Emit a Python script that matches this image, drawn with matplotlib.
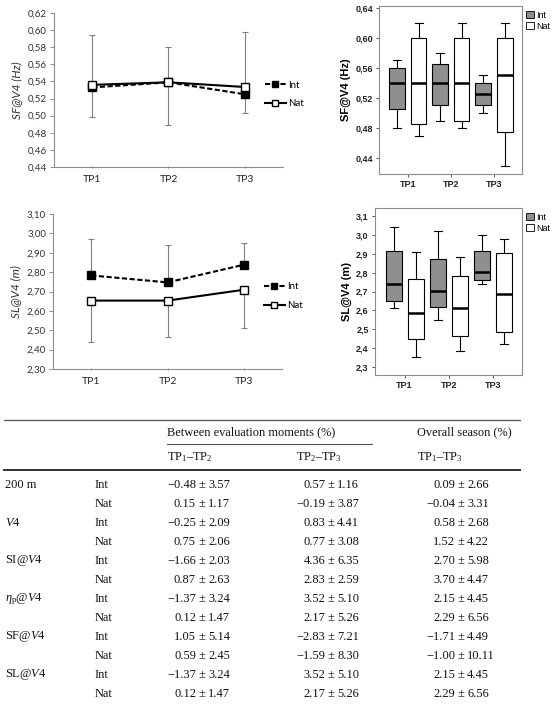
import matplotlib
matplotlib.use("Agg")
import matplotlib.pyplot as plt
from matplotlib.patches import Patch
from matplotlib.ticker import FuncFormatter

plt.rcParams['mathtext.fontset'] = 'custom'
plt.rcParams['mathtext.rm'] = 'Liberation Serif'
plt.rcParams['mathtext.it'] = 'Liberation Serif:italic'

# ---- chart data ----
timepoints = ["TP1", "TP2", "TP3"]
groups = ["Int", "Nat"]

# mean +/- sd line charts
sf_int = [0.533, 0.539, 0.525]
sf_nat = [0.536, 0.539, 0.5335]
sf_int_sd = [0.061, 0.041, 0.073]
sf_nat_sd = [0.038, 0.050, 0.030]

sl_int = [2.783, 2.747, 2.838]
sl_nat = [2.653, 2.653, 2.709]
sl_int_sd = [0.188, 0.194, 0.112]
sl_nat_sd = [0.212, 0.187, 0.197]

# boxplots: whisker low, q1, median, q3, whisker high
sf_box_int = [[0.480, 0.505, 0.540, 0.560, 0.570],
              [0.490, 0.510, 0.540, 0.565, 0.580],
              [0.500, 0.510, 0.525, 0.540, 0.550]]
sf_box_nat = [[0.470, 0.485, 0.540, 0.600, 0.620],
              [0.480, 0.490, 0.540, 0.600, 0.620],
              [0.430, 0.475, 0.550, 0.600, 0.620]]
sl_box_int = [[2.610, 2.650, 2.739, 2.914, 3.042],
              [2.551, 2.615, 2.704, 2.873, 3.020],
              [2.739, 2.760, 2.806, 2.914, 2.999]]
sl_box_nat = [[2.350, 2.450, 2.585, 2.767, 2.909],
              [2.381, 2.461, 2.612, 2.781, 2.882],
              [2.420, 2.486, 2.689, 2.905, 2.980]]

# table
params = ["200 m", "$\\mathit{V}$4", "SI@$\\mathit{V}$4", "$\\eta_\\mathrm{p}$@$\\mathit{V}$4",
          "SF@$\\mathit{V}$4", "SL@$\\mathit{V}$4"]
tp12_mean = [-0.48, 0.15, -0.25, 0.75, -1.66, 0.87, -1.37, 0.12, 1.05, 0.59, -1.37, 0.12]
tp12_sd = [3.57, 1.17, 2.09, 2.06, 2.03, 2.63, 3.24, 1.47, 5.14, 2.45, 3.24, 1.47]
tp23_mean = [0.57, -0.19, 0.83, 0.77, 4.36, 2.83, 3.52, 2.17, -2.83, -1.59, 3.52, 2.17]
tp23_sd = [1.16, 3.87, 4.41, 3.08, 6.35, 2.59, 5.10, 5.26, 7.21, 8.30, 5.10, 5.26]
tp13_mean = [0.09, -0.04, 0.58, 1.52, 2.70, 3.70, 2.15, 2.29, -1.71, -1.00, 2.15, 2.29]
tp13_sd = [2.66, 3.31, 2.68, 4.22, 5.98, 4.47, 4.45, 6.56, 4.49, 10.11, 4.45, 6.56]

W, H = 556, 704
fig = plt.figure(figsize=(W / 100, H / 100), dpi=100)


def px_axes(x0, y0, x1, y1):
    return fig.add_axes([x0 / W, 1 - y1 / H, (x1 - x0) / W, (y1 - y0) / H])


def comma(decimals):
    return FuncFormatter(lambda v, p: f"{v:.{decimals}f}".replace(".", ","))


def line_chart(ax, yint, ynat, sdint, sdnat, ylim, step, ylabel):
    xs = [0.5, 1.5, 2.5]
    ax.errorbar(xs, yint, yerr=[[0, 0, 0], sdint], fmt='none', ecolor='#7f7f7f',
                elinewidth=0.8, capsize=2.5, capthick=0.8, zorder=1)
    ax.errorbar(xs, ynat, yerr=[sdnat, [0, 0, 0]], fmt='none', ecolor='#7f7f7f',
                elinewidth=0.8, capsize=2.5, capthick=0.8, zorder=1)
    ax.plot(xs, yint, color='black', lw=1.5, ls=(0, (2.5, 1.2)), marker='s', ms=6,
            mfc='black', mec='black', label=groups[0], zorder=3)
    ax.plot(xs, ynat, color='black', lw=1.5, marker='s', ms=6,
            mfc='white', mec='black', mew=1.0, label=groups[1], zorder=3)
    ax.set_xlim(0, 3)
    ax.set_ylim(*ylim)
    n = int(round((ylim[1] - ylim[0]) / step))
    ax.set_yticks([ylim[0] + i * step for i in range(n + 1)])
    ax.yaxis.set_major_formatter(comma(2))
    ax.set_xticks(xs)
    ax.set_xticklabels(timepoints)
    for s in ['top', 'right']:
        ax.spines[s].set_visible(False)
    for s in ['left', 'bottom']:
        ax.spines[s].set_color('#8c8c8c')
        ax.spines[s].set_linewidth(0.8)
    ax.tick_params(axis='y', length=3, width=0.7, color='#8c8c8c', labelsize=7,
                   labelcolor='#333333', pad=2)
    ax.tick_params(axis='x', length=2, width=0.7, color='#8c8c8c', direction='inout',
                   labelsize=7.5, labelcolor='#222222', pad=5)
    for t in ax.get_xticklabels() + ax.get_yticklabels():
        t.set_fontfamily('Lato')
    ax.set_ylabel(ylabel, fontsize=8.5, style='italic', family='Lato', color='#333333', labelpad=4)
    ax.legend(loc='center left', bbox_to_anchor=(0.92, 0.47), frameon=False,
              prop={'family': 'Lato', 'size': 7}, handlelength=2.2, handletextpad=0.2,
              borderpad=0, borderaxespad=0, labelspacing=1.0, markerscale=0.75)


def box_chart(ax, box_int, box_nat, ylim, ticks, decimals, ylabel):
    stats_int, stats_nat = [], []
    for b in box_int:
        stats_int.append(dict(whislo=b[0], q1=b[1], med=b[2], q3=b[3], whishi=b[4]))
    for b in box_nat:
        stats_nat.append(dict(whislo=b[0], q1=b[1], med=b[2], q3=b[3], whishi=b[4]))
    pos = [1, 2, 3]
    common = dict(widths=0.36, showfliers=False, patch_artist=True, capwidths=0.18,
                  medianprops=dict(color='black', lw=1.8),
                  whiskerprops=dict(color='black', lw=0.8),
                  capprops=dict(color='black', lw=0.8))
    ax.bxp(stats_int, positions=[p - 0.25 for p in pos],
           boxprops=dict(facecolor='#8f8f8f', edgecolor='black', lw=0.8), **common)
    ax.bxp(stats_nat, positions=[p + 0.25 for p in pos],
           boxprops=dict(facecolor='white', edgecolor='black', lw=0.8), **common)
    ax.set_xlim(0.33, 3.65)
    ax.set_ylim(*ylim)
    ax.set_xticks(pos)
    ax.set_xticklabels(timepoints)
    ax.set_yticks(ticks)
    ax.yaxis.set_major_formatter(comma(decimals))
    for s in ax.spines.values():
        s.set_color('#8c8c8c')
        s.set_linewidth(0.8)
    ax.tick_params(length=2.5, width=0.7, color='#555555', labelsize=6.5, pad=2,
                   labelcolor='#222222')
    for t in ax.get_xticklabels() + ax.get_yticklabels():
        t.set_fontfamily('Liberation Sans')
        t.set_fontweight('bold')
    ax.set_ylabel(ylabel, fontsize=8, fontweight='bold', family='Liberation Sans', labelpad=3)
    handles = [Patch(facecolor='#8f8f8f', edgecolor='black', lw=0.6, label=groups[0]),
               Patch(facecolor='white', edgecolor='black', lw=0.6, label=groups[1])]
    ax.legend(handles=handles, loc='upper left', bbox_to_anchor=(1.03, 0.97), frameon=False,
              prop={'family': 'Liberation Sans', 'size': 6.5}, handlelength=0.8,
              handleheight=0.8, handletextpad=0.3, borderpad=0, borderaxespad=0,
              labelspacing=0.2)


ax_a = px_axes(54, 13, 283, 167)
line_chart(ax_a, sf_int, sf_nat, sf_int_sd, sf_nat_sd, (0.44, 0.62), 0.02, "SF@V4 (Hz)")

ax_c = px_axes(53, 214, 282, 369)
line_chart(ax_c, sl_int, sl_nat, sl_int_sd, sl_nat_sd, (2.30, 3.10), 0.10, "SL@V4 (m)")

ax_b = px_axes(379, 6, 522, 174)
box_chart(ax_b, sf_box_int, sf_box_nat, (0.419, 0.642),
          [0.44, 0.48, 0.52, 0.56, 0.60, 0.64], 2, "SF@V4 (Hz)")

ax_d = px_axes(375, 208, 522, 375)
box_chart(ax_d, sl_box_int, sl_box_nat, (2.256, 3.144),
          [2.3, 2.4, 2.5, 2.6, 2.7, 2.8, 2.9, 3.0, 3.1], 1, "SL@V4 (m)")

# ---- table ----
tab = fig.add_axes([0, 0, 1, 1], zorder=-1)
tab.set_xlim(0, W)
tab.set_ylim(H, 0)
tab.axis('off')
serif = dict(family='Liberation Serif', fontsize=8.9, color='#111111', va='center')

tab.plot([4, 520], [420, 420], color='#555555', lw=0.9)
tab.plot([167, 372], [444, 444], color='#555555', lw=0.8)
tab.plot([4, 520], [469.5, 469.5], color='#333333', lw=1.4)
tab.text(167, 432, "Between evaluation moments (%)", ha='left', **serif)
tab.text(417, 432, "Overall season (%)", ha='left', **serif)
tab.text(167, 457, "TP$_1$–TP$_2$", ha='left', **serif)
tab.text(296, 457, "TP$_2$–TP$_3$", ha='left', **serif)
tab.text(417, 457, "TP$_1$–TP$_3$", ha='left', **serif)

row_y0, row_step = 484.7, 19
pm_x = [202, 331, 461]
cols = [(tp12_mean, tp12_sd), (tp23_mean, tp23_sd), (tp13_mean, tp13_sd)]
for i in range(len(tp12_mean)):
    y = row_y0 + i * row_step
    if i % 2 == 0:
        tab.text(5, y, params[i // 2], ha='left', **serif)
    tab.text(95, y, groups[i % 2], ha='left', **serif)
    for (means, sds), px in zip(cols, pm_x):
        tab.text(px - 6, y, f"{means[i]:.2f}".replace("-", "−"), ha='right', **serif)
        tab.text(px, y, "±", ha='center', **serif)
        tab.text(px + 6, y, f"{sds[i]:.2f}", ha='left', **serif)

fig.savefig("out.png", dpi=100)
